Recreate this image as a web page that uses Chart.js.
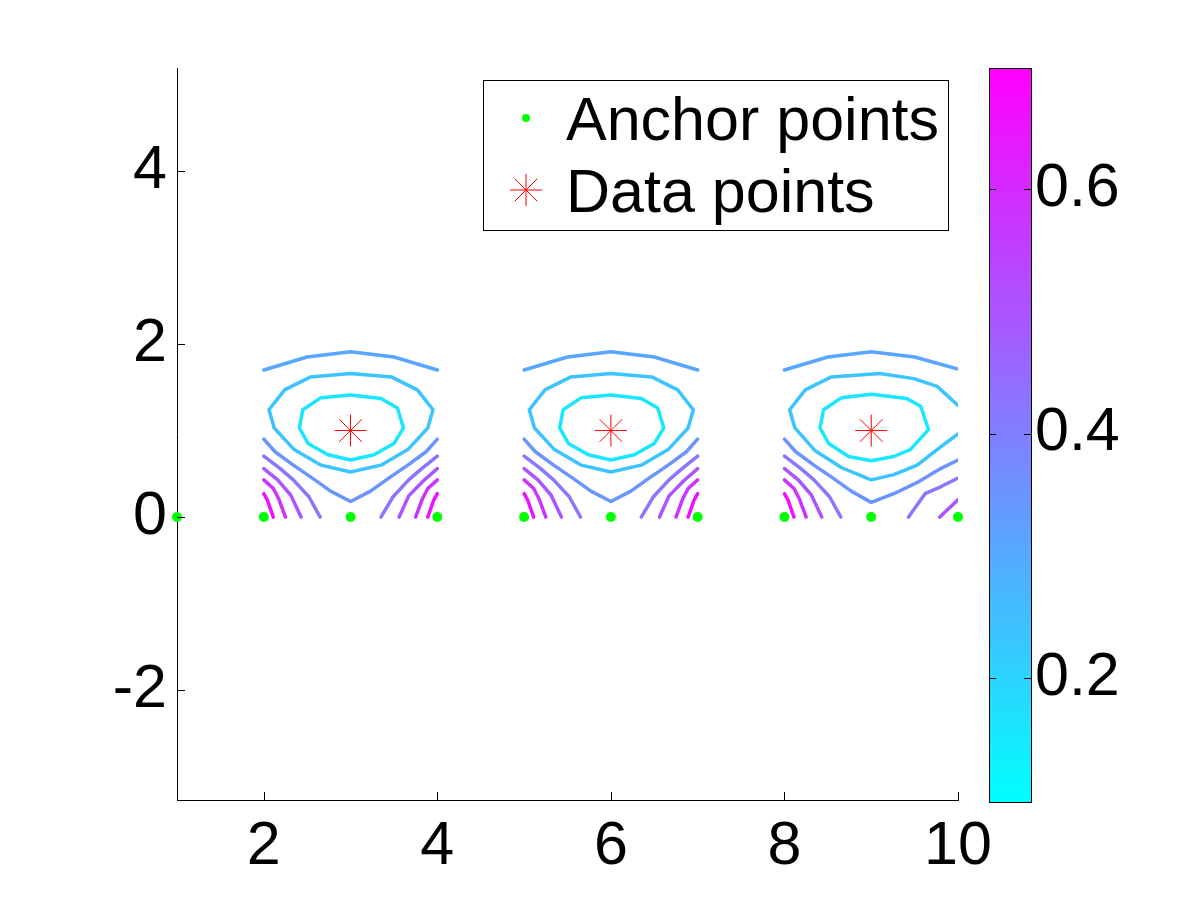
<!DOCTYPE html>
<html>
<head>
<meta charset="utf-8">
<script src="https://cdn.jsdelivr.net/npm/chart.js@4.4.1/dist/chart.umd.min.js"></script>
<style>
  html, body { margin: 0; padding: 0; background: #ffffff; }
  canvas { display: block; }
</style>
</head>
<body>
<canvas id="c" width="1200" height="900"></canvas>
<script>
// ---------------- data ----------------
const anchorX = [1, 2, 3, 4, 5, 6, 7, 8, 9, 10];
const anchorY = [0, 0, 0, 0, 0, 0, 0, 0, 0, 0];
const dataX = [3, 6, 9];
const dataY = [1, 1, 1];

const xTicks = [2, 4, 6, 8, 10];
const yTicks = [-2, 0, 2, 4];
const cbTicks = [0.2, 0.4, 0.6];
const xRange = [1, 10];
const yRange = [-3.27, 5.19];
const cbRange = [0.1006, 0.6986];

// contour levels (value of each drawn iso-line)
const lvInner = 0.16, lvMiddle = 0.24, lvArc = 0.31, lvVee = 0.35,
      lvPurple = 0.42, lvViolet = 0.50, lvMagPurple = 0.58, lvMagenta = 0.66;

// group around x = 3
const g1Inner = [[2.45,1.24],[2.41,1.03],[2.51,0.85],[2.74,0.72],[3.0,0.66],[3.27,0.72],[3.50,0.85],[3.61,1.03],[3.54,1.26],[3.35,1.37],[3.0,1.41],[2.66,1.38],[2.45,1.24]];
const g1Middle = [[2.06,1.24],[2.12,1.03],[2.35,0.78],[2.66,0.60],[3.0,0.52],[3.35,0.60],[3.66,0.78],[3.89,1.03],[3.95,1.24],[3.77,1.47],[3.47,1.62],[3.0,1.66],[2.54,1.62],[2.24,1.47],[2.06,1.24]];
const g1Arc = [[2.0,1.70],[2.5,1.85],[3.0,1.91],[3.5,1.85],[4.0,1.70]];
const g1Vee = [[2.0,0.90],[2.13,0.755],[2.34,0.60],[2.56,0.45],[2.77,0.30],[3.0,0.18],[3.23,0.30],[3.44,0.45],[3.66,0.60],[3.87,0.755],[4.0,0.90]];
const g1PurpleL = [[2.0,0.705],[2.19,0.56],[2.34,0.43],[2.52,0.235],[2.65,0.0]];
const g1PurpleR = [[3.35,0.0],[3.49,0.235],[3.67,0.43],[3.82,0.56],[4.0,0.705]];
const g1VioletL = [[2.0,0.56],[2.16,0.43],[2.31,0.255],[2.43,0.0]];
const g1VioletR = [[3.56,0.0],[3.67,0.245],[3.84,0.42],[4.0,0.56]];
const g1MagPurpleL = [[2.0,0.43],[2.11,0.33],[2.17,0.215],[2.25,0.0]];
const g1MagPurpleR = [[3.75,0.0],[3.83,0.215],[3.89,0.33],[4.0,0.43]];
const g1MagentaL = [[2.0,0.27],[2.04,0.20],[2.11,0.0]];
const g1MagentaR = [[3.89,0.0],[3.96,0.20],[4.0,0.27]];

// group around x = 6
const g2Inner = [[5.45,1.24],[5.41,1.03],[5.51,0.85],[5.74,0.72],[6.0,0.66],[6.27,0.72],[6.50,0.85],[6.61,1.03],[6.54,1.26],[6.35,1.37],[6.0,1.41],[5.66,1.38],[5.45,1.24]];
const g2Middle = [[5.06,1.24],[5.12,1.03],[5.35,0.78],[5.66,0.60],[6.0,0.52],[6.35,0.60],[6.66,0.78],[6.89,1.03],[6.95,1.24],[6.77,1.47],[6.47,1.62],[6.0,1.66],[5.54,1.62],[5.24,1.47],[5.06,1.24]];
const g2Arc = [[5.0,1.70],[5.5,1.85],[6.0,1.91],[6.5,1.85],[7.0,1.70]];
const g2Vee = [[5.0,0.90],[5.13,0.755],[5.34,0.60],[5.56,0.45],[5.77,0.30],[6.0,0.18],[6.23,0.30],[6.44,0.45],[6.66,0.60],[6.87,0.755],[7.0,0.90]];
const g2PurpleL = [[5.0,0.705],[5.19,0.56],[5.34,0.43],[5.52,0.235],[5.65,0.0]];
const g2PurpleR = [[6.35,0.0],[6.49,0.235],[6.67,0.43],[6.82,0.56],[7.0,0.705]];
const g2VioletL = [[5.0,0.56],[5.16,0.43],[5.31,0.255],[5.43,0.0]];
const g2VioletR = [[6.56,0.0],[6.67,0.245],[6.84,0.42],[7.0,0.56]];
const g2MagPurpleL = [[5.0,0.43],[5.11,0.33],[5.17,0.215],[5.25,0.0]];
const g2MagPurpleR = [[6.75,0.0],[6.83,0.215],[6.89,0.33],[7.0,0.43]];
const g2MagentaL = [[5.0,0.27],[5.04,0.20],[5.11,0.0]];
const g2MagentaR = [[6.89,0.0],[6.96,0.20],[7.0,0.27]];

// group around x = 9 (cut at the right edge)
const g3Inner = [[8.45,1.24],[8.41,1.03],[8.51,0.85],[8.74,0.70],[9.0,0.65],[9.26,0.70],[9.45,0.78],[9.66,1.01],[9.57,1.28],[9.41,1.37],[9.0,1.42],[8.66,1.38],[8.45,1.24]];
const g3Middle = [[10.0,1.29],[9.76,1.51],[9.49,1.60],[9.1,1.66],[8.54,1.62],[8.24,1.47],[8.06,1.24],[8.12,1.03],[8.35,0.77],[8.66,0.57],[9.0,0.43],[9.26,0.49],[9.53,0.60],[9.80,0.81],[10.0,0.96]];
const g3Arc = [[8.0,1.70],[8.5,1.85],[9.0,1.91],[9.5,1.85],[10.0,1.71]];
const g3Vee = [[8.0,0.90],[8.13,0.755],[8.34,0.60],[8.56,0.45],[8.77,0.30],[9.0,0.17],[9.26,0.27],[9.55,0.41],[9.80,0.56],[10.0,0.66]];
const g3PurpleL = [[8.0,0.705],[8.19,0.56],[8.34,0.43],[8.52,0.235],[8.65,0.0]];
const g3PurpleR = [[9.43,0.0],[9.62,0.27],[9.80,0.35],[10.0,0.45]];
const g3VioletL = [[8.0,0.56],[8.16,0.43],[8.31,0.255],[8.43,0.0]];
const g3VioletR = [[9.79,0.0],[10.0,0.20]];
const g3MagPurpleL = [[8.0,0.43],[8.11,0.33],[8.17,0.215],[8.25,0.0]];
const g3MagentaL = [[8.0,0.27],[8.04,0.20],[8.11,0.0]];

const contourLines = [
  [g1Inner, lvInner], [g1Middle, lvMiddle], [g1Arc, lvArc], [g1Vee, lvVee],
  [g1PurpleL, lvPurple], [g1PurpleR, lvPurple], [g1VioletL, lvViolet], [g1VioletR, lvViolet],
  [g1MagPurpleL, lvMagPurple], [g1MagPurpleR, lvMagPurple], [g1MagentaL, lvMagenta], [g1MagentaR, lvMagenta],
  [g2Inner, lvInner], [g2Middle, lvMiddle], [g2Arc, lvArc], [g2Vee, lvVee],
  [g2PurpleL, lvPurple], [g2PurpleR, lvPurple], [g2VioletL, lvViolet], [g2VioletR, lvViolet],
  [g2MagPurpleL, lvMagPurple], [g2MagPurpleR, lvMagPurple], [g2MagentaL, lvMagenta], [g2MagentaR, lvMagenta],
  [g3Inner, lvInner], [g3Middle, lvMiddle], [g3Arc, lvArc], [g3Vee, lvVee],
  [g3PurpleL, lvPurple], [g3PurpleR, lvPurple], [g3VioletL, lvViolet], [g3VioletR, lvViolet],
  [g3MagPurpleL, lvMagPurple], [g3MagentaL, lvMagenta]
];

const legendLabels = ['Anchor points', 'Data points'];

// ---------------- styling ----------------
const FONT_FAMILY = '"Liberation Sans", Arial, Helvetica, sans-serif';
const FONT_SIZE = 61;

function cool(v) {
  let t = (v - cbRange[0]) / (cbRange[1] - cbRange[0]);
  t = Math.max(0, Math.min(1, t));
  return 'rgb(' + Math.round(255 * t) + ',' + Math.round(255 * (1 - t)) + ',255)';
}

const datasets = [];
datasets.push({
  label: legendLabels[0],
  data: anchorX.map((x, i) => ({ x: x, y: anchorY[i] })),
  showLine: false,
  pointStyle: 'circle',
  pointRadius: 5,
  backgroundColor: '#00ff00',
  borderColor: '#00ff00',
  borderWidth: 0,
  clip: false,
  order: 0
});
datasets.push({
  label: legendLabels[1],
  data: dataX.map((x, i) => ({ x: x, y: dataY[i] })),
  showLine: false,
  pointStyle: 'star',
  pointRadius: 16,
  backgroundColor: '#ff0000',
  borderColor: '#ff0000',
  borderWidth: 1,
  clip: false,
  order: 1
});
contourLines.forEach(([pts, lv], i) => {
  datasets.push({
    label: 'contour' + i,
    data: pts.map(p => ({ x: p[0], y: p[1] })),
    showLine: true,
    borderColor: cool(lv),
    backgroundColor: cool(lv),
    borderWidth: 3.5,
    pointRadius: 0,
    tension: 0,
    fill: false,
    borderJoinStyle: 'round',
    borderCapStyle: 'round',
    order: 2 + i
  });
});

const tickFont = { family: FONT_FAMILY, size: FONT_SIZE };

function noPad(s) {
  s.paddingTop = 0; s.paddingBottom = 0; s.paddingLeft = 0; s.paddingRight = 0;
}

const decorPlugin = {
  id: 'decor',
  afterDraw(chart) {
    const ctx = chart.ctx;
    const xs = chart.scales.x, ys = chart.scales.y, cb = chart.scales.cb;
    const area = chart.chartArea;
    ctx.save();
    // inward tick marks on main axes
    ctx.strokeStyle = '#000';
    ctx.lineWidth = 1;
    ctx.beginPath();
    xTicks.forEach(v => {
      const px = Math.round(xs.getPixelForValue(v)) + 0.5;
      ctx.moveTo(px, area.bottom);
      ctx.lineTo(px, area.bottom - 8);
    });
    yTicks.forEach(v => {
      const py = Math.round(ys.getPixelForValue(v)) + 0.5;
      ctx.moveTo(area.left, py);
      ctx.lineTo(area.left + 8, py);
    });
    ctx.stroke();

    // colour bar
    const cx0 = 989, cx1 = 1031;
    const cTop = cb.getPixelForValue(cbRange[1]);
    const cBot = cb.getPixelForValue(cbRange[0]) + 2;
    const grad = ctx.createLinearGradient(0, cBot, 0, cTop);
    grad.addColorStop(0, cool(cbRange[0]));
    grad.addColorStop(1, cool(cbRange[1]));
    ctx.fillStyle = grad;
    ctx.fillRect(cx0, cTop, cx1 - cx0, cBot - cTop);
    ctx.strokeStyle = '#000';
    ctx.lineWidth = 1;
    ctx.strokeRect(cx0 + 0.5, cTop + 0.5, cx1 - cx0, cBot - cTop);
    ctx.beginPath();
    cbTicks.forEach(v => {
      const py = Math.round(cb.getPixelForValue(v)) + 0.5;
      ctx.moveTo(cx0, py); ctx.lineTo(cx0 + 7, py);
      ctx.moveTo(cx1, py); ctx.lineTo(cx1 - 7, py);
    });
    ctx.stroke();

    // legend box
    const lx0 = 483, ly0 = 80, lx1 = 948, ly1 = 230;
    ctx.fillStyle = '#fff';
    ctx.fillRect(lx0, ly0, lx1 - lx0, ly1 - ly0);
    ctx.strokeStyle = '#000';
    ctx.lineWidth = 1;
    ctx.strokeRect(lx0 + 0.5, ly0 + 0.5, lx1 - lx0, ly1 - ly0);
    const rows = [
      { ds: chart.data.datasets[0], my: 118, base: 140, r: 4 },
      { ds: chart.data.datasets[1], my: 190, base: 212, r: 16 }
    ];
    rows.forEach(row => {
      ctx.save();
      ctx.fillStyle = row.ds.backgroundColor;
      ctx.strokeStyle = row.ds.borderColor;
      ctx.lineWidth = row.ds.borderWidth;
      Chart.helpers.drawPoint(ctx, {
        pointStyle: row.ds.pointStyle,
        radius: row.r,
        rotation: 0,
        borderWidth: row.ds.borderWidth
      }, 526, row.my);
      ctx.restore();
      ctx.fillStyle = '#000';
      ctx.font = FONT_SIZE + 'px ' + FONT_FAMILY;
      ctx.textBaseline = 'alphabetic';
      ctx.textAlign = 'left';
      ctx.fillText(row.ds.label, 566, row.base);
    });
    ctx.restore();
  }
};

new Chart(document.getElementById('c'), {
  type: 'scatter',
  data: { datasets: datasets },
  options: {
    responsive: false,
    animation: false,
    events: [],
    layout: { padding: { top: 68, left: 0, right: 0, bottom: 0 } },
    plugins: { legend: { display: false }, tooltip: { enabled: false } },
    scales: {
      x: {
        type: 'linear', position: 'bottom',
        min: xRange[0], max: xRange[1],
        afterBuildTicks: s => { s.ticks = xTicks.map(v => ({ value: v })); },
        afterFit: s => { s.height = 100; noPad(s); },
        grid: { display: false, drawTicks: false },
        border: { display: true, color: '#000', width: 1 },
        ticks: { font: tickFont, color: '#000', padding: 11, autoSkip: false, maxRotation: 0, minRotation: 0,
                 callback: v => String(v) }
      },
      y: {
        type: 'linear', position: 'left',
        min: yRange[0], max: yRange[1],
        afterBuildTicks: s => { s.ticks = yTicks.map(v => ({ value: v })); },
        afterFit: s => { s.width = 177; noPad(s); },
        grid: { display: false, drawTicks: false },
        border: { display: true, color: '#000', width: 1 },
        ticks: { font: tickFont, color: '#000', padding: 10, autoSkip: false,
                 callback: v => String(v) }
      },
      cb: {
        type: 'linear', position: 'right',
        min: cbRange[0], max: cbRange[1],
        afterBuildTicks: s => { s.ticks = cbTicks.map(v => ({ value: v })); },
        afterFit: s => { s.width = 242; noPad(s); },
        grid: { display: false, drawTicks: false },
        border: { display: false },
        ticks: { font: tickFont, color: '#000', padding: 77, autoSkip: false,
                 callback: v => Number(v).toFixed(1) }
      }
    }
  },
  plugins: [decorPlugin]
});
</script>
</body>
</html>
